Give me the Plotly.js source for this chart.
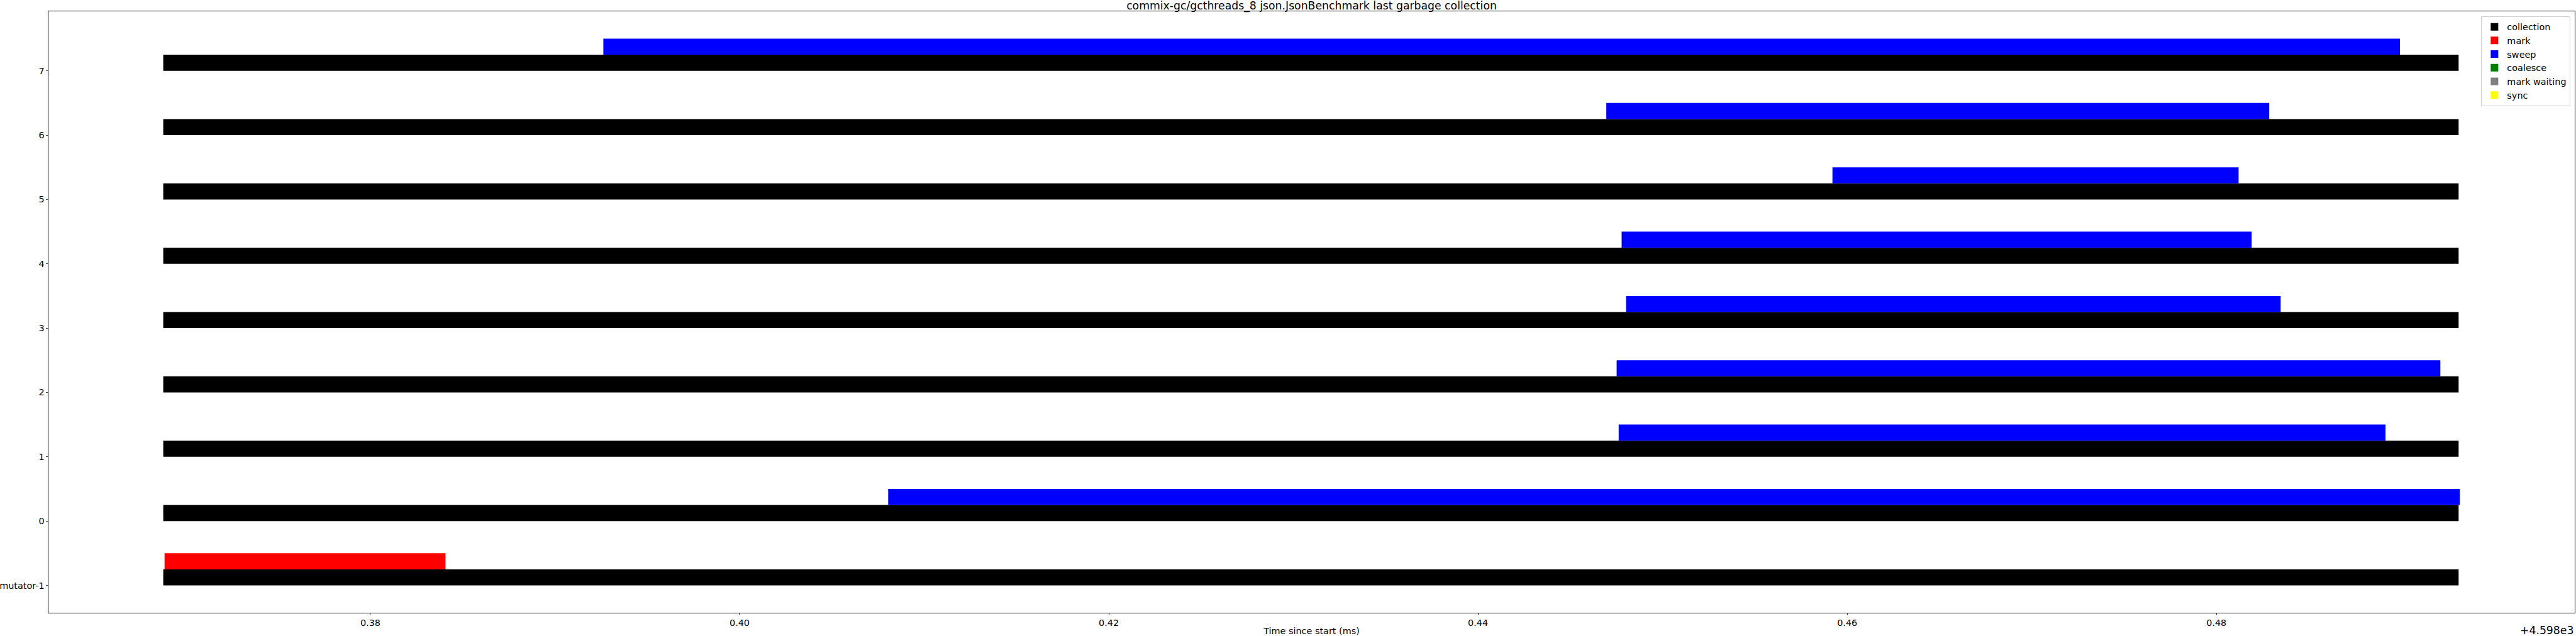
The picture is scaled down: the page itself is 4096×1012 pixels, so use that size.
<!DOCTYPE html>
<html>
<head>
<meta charset="utf-8">
<script src="https://cdn.plot.ly/plotly-3.0.1.min.js"></script>
<style>
  html, body { margin: 0; padding: 0; background: #ffffff; }
  #chart { width: 4096px; height: 1012px; }
</style>
</head>
<body>
<div id="chart"></div>
<script>
// ---- data (ms after the +4.598e3 offset) ----
const categories = ['mutator-1', '0', '1', '2', '3', '4', '5', '6', '7'];
const timeOffsetLabel = '+4.598e3';

const collectionCategory = ['mutator-1', '0', '1', '2', '3', '4', '5', '6', '7'];
const collectionStart = [0.36878, 0.36878, 0.36878, 0.36878, 0.36878, 0.36878, 0.36878, 0.36878, 0.36878];
const collectionEnd   = [0.49312, 0.49312, 0.49312, 0.49312, 0.49312, 0.49312, 0.49312, 0.49312, 0.49312];

const markCategory = ['mutator-1'];
const markStart = [0.36885];
const markEnd   = [0.38407];

const sweepCategory = ['0', '1', '2', '3', '4', '5', '6', '7'];
const sweepStart = [0.40805, 0.44762, 0.44751, 0.44802, 0.44778, 0.45920, 0.44695, 0.39262];
const sweepEnd   = [0.49319, 0.48916, 0.49213, 0.48348, 0.48191, 0.48120, 0.48286, 0.48994];

const emptyPhases = ['coalesce', 'mark waiting', 'sync'];
const emptyColors = ['#008000', '#808080', '#ffff00'];

const xTickValues = [0.38, 0.40, 0.42, 0.44, 0.46, 0.48];
const xTickLabels = ['0.38', '0.40', '0.42', '0.44', '0.46', '0.48'];

// ---- build ----
const S = 0.518;
const FONT = 'DejaVu Sans, Verdana, sans-serif';
const barH = 0.25;
const idx = c => categories.indexOf(c);

function barTrace(name, color, cats, starts, ends, level) {
  return {
    type: 'bar', orientation: 'h', name: name,
    y: cats.map(c => idx(c) + barH * (level + 0.5)),
    base: starts,
    x: starts.map((s, i) => ends[i] - s),
    width: cats.map(() => barH),
    marker: { color: color, line: { width: 0 } },
    hoverinfo: 'skip'
  };
}

const traces = [
  barTrace('collection', '#000000', collectionCategory, collectionStart, collectionEnd, 0),
  barTrace('mark', '#ff0000', markCategory, markStart, markEnd, 1),
  barTrace('sweep', '#0000ff', sweepCategory, sweepStart, sweepEnd, 1)
];
emptyPhases.forEach((p, i) => {
  traces.push({ type: 'bar', orientation: 'h', name: p, x: [null], y: [null],
    marker: { color: emptyColors[i] }, showlegend: true, hoverinfo: 'skip' });
});

const allStarts = collectionStart.concat(markStart, sweepStart);
const allEnds = collectionEnd.concat(markEnd, sweepEnd);
const xmin = Math.min(...allStarts), xmax = Math.max(...allEnds);
const xpad = (xmax - xmin) * 0.05;
const ymin = 0, ymax = (categories.length - 1) + 2 * barH;
const ypad = (ymax - ymin) * 0.05;

const tickFont = { family: FONT, size: 27.8 * S, color: '#000000' };

const layout = {
  width: 4096, height: 1012,
  margin: { l: 77, r: 1.5, t: 17.6, b: 36.7, pad: 0 },
  paper_bgcolor: '#ffffff', plot_bgcolor: '#ffffff',
  barmode: 'overlay',
  font: { family: FONT, color: '#000000' },
  title: {
    text: 'commix-gc/gcthreads_8 json.JsonBenchmark last garbage collection',
    font: { family: FONT, size: 33.3 * S, color: '#000000' },
    x: 0.5, xref: 'paper', xanchor: 'center',
    y: 1 - 8.6 / 1012, yref: 'container', yanchor: 'middle'
  },
  xaxis: {
    range: [xmin - xpad, xmax + xpad],
    tickmode: 'array', tickvals: xTickValues, ticktext: xTickLabels,
    tickfont: tickFont,
    ticks: 'outside', ticklen: 4.86 * S, tickwidth: 0.7, tickcolor: '#000000',
    showline: true, linecolor: '#000000', linewidth: 1, mirror: true,
    showgrid: false, zeroline: false, automargin: false,
    title: { text: 'Time since start (ms)', font: { family: FONT, size: 27.8 * S, color: '#000000' }, standoff: 4 }
  },
  yaxis: {
    range: [ymin - ypad, ymax + ypad],
    tickmode: 'array', tickvals: categories.map((c, i) => i), ticktext: categories,
    tickfont: tickFont,
    ticks: 'outside', ticklen: 4.86 * S, tickwidth: 0.7, tickcolor: '#000000',
    showline: true, linecolor: '#000000', linewidth: 1, mirror: true,
    showgrid: false, zeroline: false, automargin: false
  },
  legend: {
    x: 0.99835, y: 0.99186, xanchor: 'right', yanchor: 'top',
    bgcolor: 'rgba(255,255,255,0.8)', bordercolor: '#cccccc', borderwidth: 1,
    font: { family: FONT, size: 27.8 * S, color: '#000000' },
    traceorder: 'normal'
  },
  annotations: [{
    text: timeOffsetLabel, xref: 'paper', yref: 'paper',
    x: 1.0, y: -0.0296, xanchor: 'right', yanchor: 'middle', showarrow: false,
    font: { family: FONT, size: 33.3 * S, color: '#000000' }
  }],
  showlegend: true
};

Plotly.newPlot('chart', traces, layout, { staticPlot: true, displayModeBar: false });
</script>
</body>
</html>
